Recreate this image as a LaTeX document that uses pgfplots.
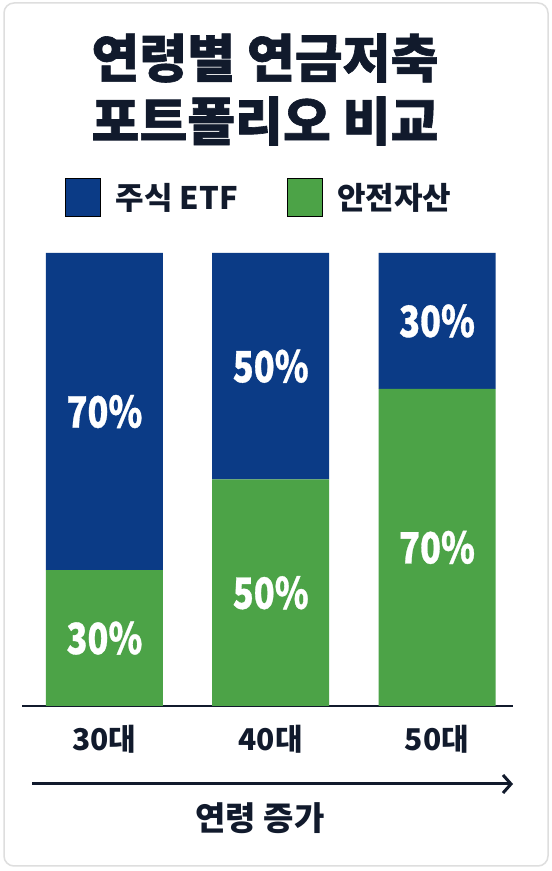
\documentclass[border=0pt]{standalone}
\usepackage{fontspec}
\usepackage{graphicx}
\setmainfont{Noto Sans CJK KR}
\usepackage{pgfplots}
\usepackage{pgfplotstable}
\pgfplotsset{compat=1.18}
\usetikzlibrary{arrows.meta}
\definecolor{etfblue}{HTML}{0B3B86}
\definecolor{safegreen}{HTML}{4CA347}
\definecolor{titlecol}{HTML}{111A2C}
\pgfplotstableread{
x y
0 30
1 50
2 70
}\safedata
\pgfplotstableread{
x y
0 70
1 50
2 30
}\etfdata
\begin{document}
\begin{tikzpicture}[x=1pt,y=1pt]
\useasboundingbox (0,0) rectangle (552,871);
\fill[white] (0,0) rectangle (552,871);
\draw[rounded corners=10pt, draw=black!13, line width=1.5pt, fill=white] (4,5) rectangle (548,868);
\begin{axis}[
  at={(22pt,165pt)}, anchor=south west,
  width=491pt, height=453pt, scale only axis,
  xmin=-0.496, xmax=2.457, ymin=0, ymax=100,
  ybar stacked, bar width=117pt,
  axis x line=bottom, axis y line=none,
  x axis line style={line width=2.5pt, draw=titlecol, -},
  xtick={0,1,2}, xticklabels={30대,40대,50대},
  major tick length=0pt,
  xticklabel style={font=\bfseries\fontsize{30}{30}\selectfont, text=titlecol, anchor=center, yshift=-33pt},
  ytick=\empty,
  point meta=\thisrow{y},
  nodes near coords={\scalebox{0.8}[1]{\pgfmathprintnumber[assume math mode=true]{\pgfplotspointmeta}\%}},
  every node near coord/.append style={anchor=center, text=white, font=\bfseries\addfontfeature{FakeBold=0.8}\fontsize{43}{43}\selectfont},
  legend image code/.code={\fill[#1] (0pt,-19pt) rectangle (35pt,19pt);},
  legend style={draw=none, fill=none, legend columns=2, inner sep=0pt,
    at={(axis description cs:0.0876,1.1236)}, anchor=west,
    font=\bfseries\fontsize{31}{31}\selectfont, text=titlecol,
    nodes={inner sep=0pt},
    /tikz/every odd column/.append style={column sep=15pt},
    /tikz/every even column/.append style={column sep=49pt}},
]
\addplot+[fill=safegreen, draw=none, forget plot] table[x=x,y=y] {\safedata};
\addplot+[fill=etfblue, draw=none, forget plot] table[x=x,y=y] {\etfdata};
\addlegendimage{fill=etfblue}
\addlegendentry{주식 ETF}
\addlegendimage{fill=safegreen}
\addlegendentry{안전자산}
\end{axis}
\node[font=\bfseries\addfontfeature{FakeBold=1.2}\fontsize{52}{52}\selectfont, text=titlecol] at (265,813) {연령별 연금저축};
\node[font=\bfseries\addfontfeature{FakeBold=1.2}\fontsize{52}{52}\selectfont, text=titlecol] at (265,750) {포트폴리오 비교};
\draw[line width=3pt, titlecol, -{Straight Barb[length=8pt,width=18pt]}] (32,87) -- (513,87);
\node[font=\bfseries\fontsize{33}{33}\selectfont, text=titlecol] at (260,53) {연령 증가};
\end{tikzpicture}
\end{document}
